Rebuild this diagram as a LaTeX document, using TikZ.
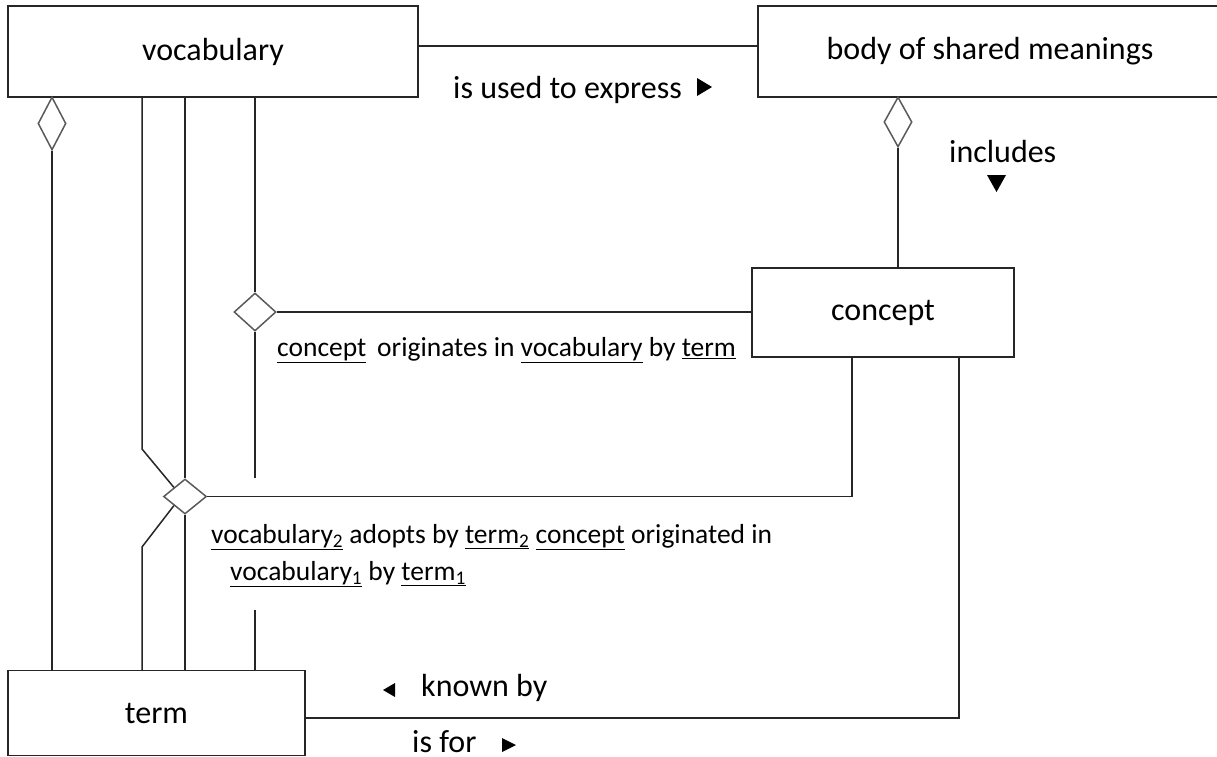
\documentclass[tikz,border=0pt]{standalone}
\usepackage{fontspec}
\setmainfont{Carlito}
\usetikzlibrary{shapes.geometric}
\definecolor{linec}{HTML}{262626}
\definecolor{diac}{HTML}{5A5A5A}
\begin{document}
\begin{tikzpicture}[x=1pt,y=-1pt,
  box/.style={draw=linec, line width=1.5pt, fill=white, inner sep=0pt, font=\fontsize{32}{38}\selectfont},
  conn/.style={draw=linec, line width=1.5pt},
  agg/.style={shape=diamond, draw=diac, line width=1.5pt, fill=white, inner sep=0pt},
  lbl/.style={inner sep=0pt, anchor=west, font=\fontsize{32}{38}\selectfont},
  small/.style={inner sep=0pt, anchor=west, align=left, font=\fontsize{27.5}{37}\selectfont},
  tri/.style={fill=black}]
\useasboundingbox[fill=white] (0,0) rectangle (1217,756);

% boxes
\node[box, minimum width=410pt, minimum height=91pt] (vocab) at (213,51.5) {vocabulary};
\node[box, minimum width=464pt, minimum height=91pt] (body) at (990,51.5) {body of shared meanings};
\node[box, minimum width=262pt, minimum height=89pt] (concept) at (883,312.5) {concept};
\node[box, minimum width=297pt, minimum height=85pt] (term) at (156.5,713) {term};

% diamonds
\node[agg, minimum width=28pt, minimum height=53pt] (d1) at (52,123.5) {};
\node[agg, minimum width=28pt, minimum height=50pt] (dB) at (898,122) {};
\node[agg, minimum width=42pt, minimum height=38pt] (d2) at (255,312) {};
\node[agg, minimum width=43pt, minimum height=35pt] (d3) at (185,496.5) {};

% helper coordinates
\coordinate (a1) at (142,449);
\coordinate (a2) at (142,547);
\coordinate (e1) at (255,478);
\coordinate (e2) at (255,610);
\coordinate (c852) at (852,496.5);
\coordinate (c959) at (959,718);

% connectors
\draw[conn] ([yshift=5.5pt]vocab.east) -- ([yshift=5.5pt]vocab.east -| body.west);
\draw[conn] (d1.south) -- (d1.south |- term.north);
\draw[conn] (dB.south) -- (dB.south |- concept.north);
\draw[conn] (a1 |- vocab.south) -- (a1) -- (d3.north west);
\draw[conn] (d3.south west) -- (a2) -- (a2 |- term.north);
\draw[conn] (d3.north |- vocab.south) -- (d3.north);
\draw[conn] (d3.south) -- (d3.south |- term.north);
\draw[conn] (d3.east) -- (c852) -- (c852 |- concept.south);
\draw[conn] (d2.north |- vocab.south) -- (d2.north);
\draw[conn] (d2.south) -- (e1);
\draw[conn] (d2.east) -- (d2.east -| concept.west);
\draw[conn] (e2) -- (e2 |- term.north);
\draw[conn] (c959 |- concept.south) -- (c959) -- (c959 -| term.east);

% labels
\node[lbl] (use) at (453,90) {is used to express};
\fill[tri] (697,78) -- (712,87) -- (697,96) -- cycle;
\node[lbl] (incl) at (949,152) {includes};
\fill[tri] (987,175) -- (1006,175) -- (996.5,192) -- cycle;
\node[small] (orig) at (277,350) {\underline{concept}\, originates in \underline{vocabulary} by \underline{term}};
\node[small, anchor=north west] (adopt) at (211,524) {\underline{vocabulary\textsubscript{2}} adopts by \underline{term\textsubscript{2}} \underline{concept} originated in\\\hspace*{19pt}\underline{vocabulary\textsubscript{1}} by \underline{term\textsubscript{1}}};
\node[lbl] (known) at (421,688) {known by};
\fill[tri] (395,683) -- (383,690) -- (395,697) -- cycle;
\node[lbl] (isfor) at (412,742) {is for};
\fill[tri] (502,738) -- (516,745) -- (502,752) -- cycle;
\end{tikzpicture}
\end{document}
